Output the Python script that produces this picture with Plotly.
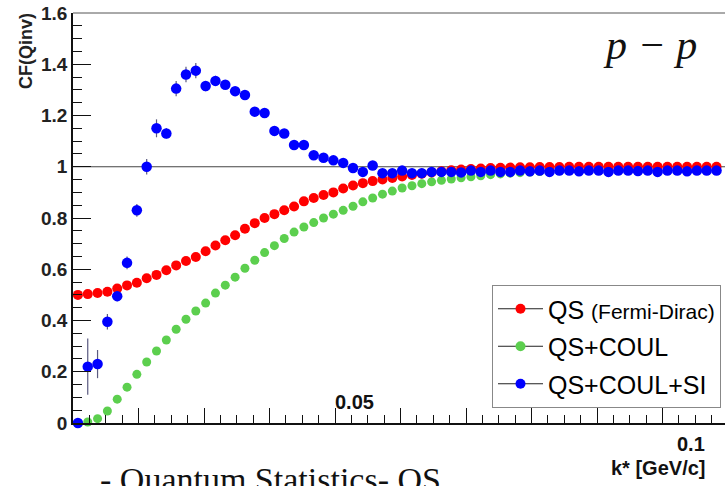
import plotly.graph_objects as go

# bin centres of k* [GeV/c]
k_star = [0.00075, 0.00225, 0.00375, 0.00525, 0.00675, 0.00825, 0.00975, 0.01125, 0.01275, 0.01425,
          0.01575, 0.01725, 0.01875, 0.02025, 0.02175, 0.02325, 0.02475, 0.02625, 0.02775, 0.02925,
          0.03075, 0.03225, 0.03375, 0.03525, 0.03675, 0.03825, 0.03975, 0.04125, 0.04275, 0.04425,
          0.04575, 0.04725, 0.04875, 0.05025, 0.05175, 0.05325, 0.05475, 0.05625, 0.05775, 0.05925,
          0.06075, 0.06225, 0.06375, 0.06525, 0.06675, 0.06825, 0.06975, 0.07125, 0.07275, 0.07425,
          0.07575, 0.07725, 0.07875, 0.08025, 0.08175, 0.08325, 0.08475, 0.08625, 0.08775, 0.08925,
          0.09075, 0.09225, 0.09375, 0.09525, 0.09675, 0.09825, 0.09975]

cf_qs = [0.50, 0.503, 0.507, 0.512, 0.525, 0.537, 0.547, 0.565, 0.578, 0.596,
         0.615, 0.632, 0.648, 0.670, 0.693, 0.713, 0.733, 0.758, 0.780, 0.800,
         0.815, 0.830, 0.845, 0.865, 0.878, 0.890, 0.900, 0.915, 0.927, 0.936,
         0.944, 0.950, 0.956, 0.962, 0.968, 0.973, 0.978, 0.982, 0.986, 0.989,
         0.991, 0.993, 0.995, 0.996, 0.997, 0.998, 0.998, 0.999, 0.999, 0.999,
         1.000, 1.000, 1.000, 1.000, 1.000, 1.000, 1.000, 1.000, 1.000, 1.000,
         1.000, 1.000, 1.000, 1.000, 1.000, 1.000, 1.000]

cf_qs_coul = [0.0, 0.004, 0.017, 0.047, 0.093, 0.140, 0.190, 0.238, 0.281, 0.324,
              0.366, 0.405, 0.437, 0.468, 0.507, 0.538, 0.569, 0.604, 0.635, 0.665,
              0.692, 0.720, 0.745, 0.765, 0.782, 0.800, 0.815, 0.830, 0.846, 0.863,
              0.878, 0.893, 0.905, 0.917, 0.926, 0.934, 0.941, 0.947, 0.952, 0.957,
              0.961, 0.965, 0.969, 0.972, 0.975, 0.977, 0.979, 0.981, 0.983, 0.984,
              0.985, 0.986, 0.986, 0.987, 0.987, 0.988, 0.988, 0.988, 0.989, 0.989,
              0.989, 0.990, 0.990, 0.990, 0.990, 0.990, 0.990]

cf_qs_coul_si = [0.0, 0.22, 0.23, 0.395, 0.495, 0.625, 0.83, 1.0, 1.15, 1.13,
                 1.305, 1.36, 1.375, 1.315, 1.335, 1.32, 1.295, 1.28, 1.215, 1.21,
                 1.14, 1.13, 1.085, 1.085, 1.045, 1.035, 1.025, 1.015, 0.995, 0.98,
                 1.005, 0.975, 0.975, 0.985, 0.975, 0.975, 0.98, 0.98, 0.98, 0.978,
                 0.985, 0.98, 0.985, 0.98, 0.98, 0.985, 0.982, 0.985, 0.98, 0.985,
                 0.985, 0.982, 0.985, 0.985, 0.98, 0.985, 0.985, 0.983, 0.985, 0.98,
                 0.985, 0.985, 0.982, 0.985, 0.985, 0.985, 0.985]

err_qs_coul_si = [0.0, 0.11, 0.055, 0.03, 0.02, 0.025, 0.025, 0.03, 0.035, 0.02,
                  0.03, 0.03, 0.03, 0.02, 0.02, 0.015, 0.015, 0.015, 0.015, 0.012,
                  0.01, 0.01, 0.01, 0.01, 0.01, 0.01, 0.01, 0.01, 0.01, 0.01,
                  0.008, 0.008, 0.008, 0.008, 0.008, 0.008, 0.008, 0.008, 0.008, 0.008,
                  0.008, 0.008, 0.008, 0.008, 0.008, 0.008, 0.008, 0.008, 0.008, 0.008,
                  0.008, 0.008, 0.008, 0.008, 0.008, 0.008, 0.008, 0.008, 0.008, 0.008,
                  0.008, 0.008, 0.008, 0.008, 0.008, 0.008, 0.008]

x_major_ticks = [0.0, 0.01, 0.02, 0.03, 0.04, 0.05, 0.06, 0.07, 0.08, 0.09]
x_minor_ticks = [0.0025, 0.005, 0.0075, 0.0125, 0.015, 0.0175, 0.0225, 0.025, 0.0275,
                 0.0325, 0.035, 0.0375, 0.0425, 0.045, 0.0475, 0.0525, 0.055, 0.0575,
                 0.0625, 0.065, 0.0675, 0.0725, 0.075, 0.0775, 0.0825, 0.085, 0.0875,
                 0.0925, 0.095, 0.0975]

y_tickvals = [0, 0.2, 0.4, 0.6, 0.8, 1.0, 1.2, 1.4, 1.6]
y_ticktext = ["0", "0.2", "0.4", "0.6", "0.8", "1", "1.2", "1.4", "1.6"]

RED = "#ff0000"
GREEN = "#5ccf4e"
BLUE = "#0000ff"
SANS = "Liberation Sans, Arial, sans-serif"
SERIF = "Liberation Serif, Times New Roman, serif"
X_RANGE = [0, 0.09954]

fig = go.Figure()

fig.add_trace(go.Scatter(x=k_star, y=cf_qs_coul, mode="markers", showlegend=False,
                         marker=dict(color=GREEN, size=9), cliponaxis=False))
fig.add_trace(go.Scatter(x=k_star, y=cf_qs, mode="markers", showlegend=False,
                         marker=dict(color=RED, size=10), cliponaxis=False))
fig.add_trace(go.Scatter(x=k_star, y=cf_qs_coul_si, mode="markers", showlegend=False,
                         marker=dict(color=BLUE, size=10.5),
                         error_y=dict(type="data", array=err_qs_coul_si, color="#5a5a80",
                                      thickness=1.2, width=0),
                         cliponaxis=False))

# legend entries (line + marker like ROOT "LP")
legend_items = [("QS <span style='font-size:21px'>(Fermi-Dirac)</span>", RED),
                ("QS+COUL", GREEN),
                ("QS+COUL+SI", BLUE)]
for i, (name, col) in enumerate(legend_items):
    fig.add_trace(go.Scatter(x=[None], y=[None], mode="lines+markers", name=name,
                             legendgroup=f"g{i}",
                             line=dict(color="#222222", width=1),
                             marker=dict(color=col, size=10)))

fig.add_shape(type="line", xref="x", yref="y", x0=0, x1=0.1, y0=1, y1=1,
              line=dict(color="#444444", width=1), layer="below")
fig.add_shape(type="line", xref="paper", yref="paper", x0=0, x1=1, y0=1, y1=1,
              line=dict(color="#555555", width=1))

def px_x(p):
    return (p - 73) / 652.0

def px_y(p):
    return (423 - p) / 410.0

annos = [
    dict(text="CF(Qinv)", x=px_x(26), y=px_y(51), textangle=-90,
         font=dict(family=SANS, size=18, color="#222", weight="bold")),
    dict(text="0.05", x=px_x(354), y=px_y(402),
         font=dict(family=SANS, size=20, color="#111", weight="bold")),
    dict(text="0.1", x=px_x(707), y=px_y(444), xanchor="right",
         font=dict(family=SANS, size=20, color="#111", weight="bold")),
    dict(text="k* [GeV/c]", x=px_x(707), y=px_y(468), xanchor="right",
         font=dict(family=SANS, size=20, color="#111", weight="bold")),
    dict(text="p − p", x=px_x(650), y=px_y(45),
         font=dict(family=SERIF, size=42, color="#111", style="italic")),
    dict(text="- Quantum Statistics- QS", x=px_x(98), y=px_y(479), xanchor="left",
         font=dict(family=SERIF, size=34, color="#111")),
]
for a in annos:
    a.setdefault("xanchor", "center")
    a.setdefault("yanchor", "middle")
    fig.add_annotation(xref="paper", yref="paper", showarrow=False, **a)

fig.update_layout(
    width=725, height=486,
    margin=dict(l=73, r=0, t=13, b=63),
    paper_bgcolor="white", plot_bgcolor="white",
    legend=dict(x=px_x(492), y=px_y(285), xanchor="left", yanchor="top",
                bordercolor="#888888", borderwidth=1, bgcolor="white",
                font=dict(family=SANS, size=25, color="black"),
                itemwidth=45, tracegroupgap=2),
    xaxis=dict(range=X_RANGE, showgrid=False, zeroline=False,
               showline=True, linecolor="#111", linewidth=1.5,
               ticks="inside", ticklen=15, tickwidth=1.3, tickcolor="#111",
               tickmode="array", tickvals=x_major_ticks, showticklabels=False,
               minor=dict(ticks="inside", ticklen=8, tickmode="array",
                          tickvals=x_minor_ticks, tickcolor="#111", tickwidth=1.3,
                          showgrid=False)),
    yaxis=dict(range=[0, 1.6], showgrid=False, zeroline=False,
               showline=True, linecolor="#111", linewidth=1.5,
               ticks="inside", ticklen=18, tickwidth=1.4, tickcolor="#111",
               tickvals=y_tickvals, ticktext=y_ticktext,
               tickfont=dict(family=SANS, size=19, color="#222", weight="bold"),
               minor=dict(ticks="inside", ticklen=9, dtick=0.05, tickcolor="#111",
                          tickwidth=1.4, showgrid=False)),
)

fig.write_html("out.html")
